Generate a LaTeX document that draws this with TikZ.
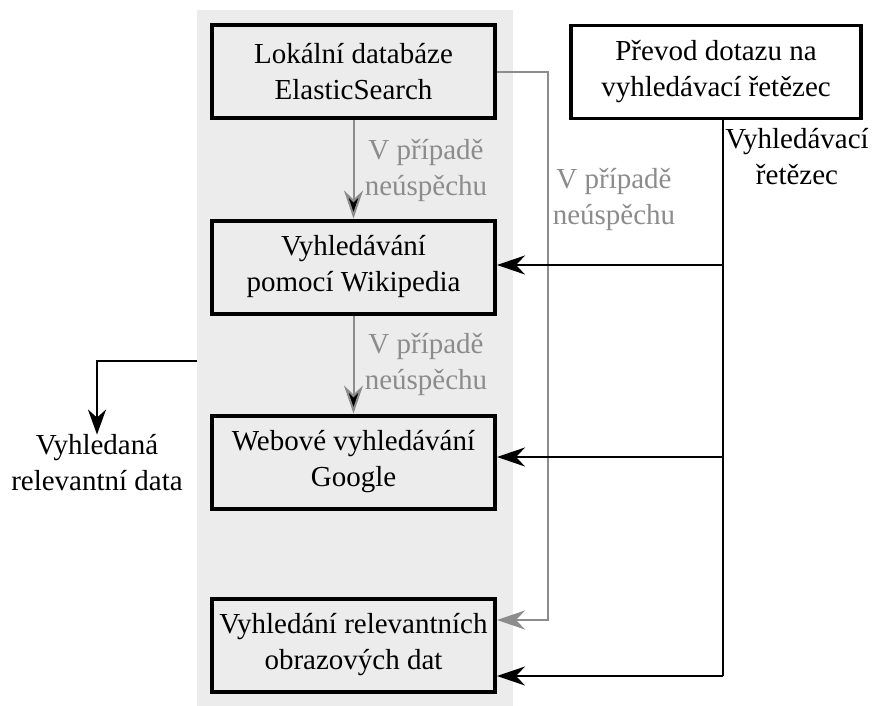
\documentclass[tikz,border=0pt]{standalone}
\usepackage{fontspec}
\setmainfont{Liberation Serif}
\newfontfamily\tnr{Liberation Serif}
\usepackage{xcolor}
\usetikzlibrary{arrows.meta}
\usetikzlibrary{positioning}
\definecolor{panel}{HTML}{ECECEC}
\definecolor{fail}{HTML}{8C8C8C}

\tikzset{
  stepbox/.style={draw=black, line width=4pt, fill=panel, minimum width=283pt,
    minimum height=93pt, align=center, inner sep=2pt,
    font=\tnr\fontsize{29}{36}\selectfont},
  txt/.style={align=center, inner sep=0pt, font=\tnr\fontsize{29}{36}\selectfont},
  failtxt/.style={txt, text=fail},
  flow/.style={line width=2.4pt, -{Stealth[length=28pt, width=19pt, inset=9pt]}},
  failflow/.style={flow, draw=fail, line width=2pt}
}

\begin{document}
\begin{tikzpicture}[x=1pt, y=-1pt]
    \useasboundingbox (0,0) rectangle (875,706);
    \fill[panel] (197,10) rectangle (513,706);
    \node[stepbox] (A) at (353.5,72) {Lokální databáze\\ElasticSearch};
    \node[stepbox] (B) at (353.5,267) {Vyhledávání\\pomocí Wikipedia};
    \node[stepbox] (C) at (353.5,462) {Webové vyhledávání\\Google};
    \node[stepbox] (D) at (353.5,645) {Vyhledání relevantních\\obrazových dat};
    \node[stepbox, fill=white, line width=3.5pt, minimum width=290pt] (P) at (716,72) {Převod dotazu na\\vyhledávací řetězec};
    \node[failtxt] (L1) at (426,170) {V případě\\neúspěchu};
    \node[failtxt] (L2) at (426,364) {V případě\\neúspěchu};
    \node[failtxt] (L3) at (614,199) {V případě\\neúspěchu};
    \node[txt] (L4) at (797,157) {Vyhledávací\\řetězec};
    \node[txt] (R) at (97,463) {Vyhledaná\\relevantní data};
    \coordinate (S) at (723,0 |- P.south);
    \coordinate (G) at (197,361);
    \path [failflow] (A) edge (B);
    \path [failflow] (B) edge (C);
    \draw [failflow] (A.east) -| (548,620) -- (D.east |- 0,620);
    \draw [line width=2.4pt] (S) -- (723,676);
    \draw [flow] (723,265) -- (B.east |- 0,265);
    \draw [flow] (723,457) -- (C.east |- 0,457);
    \draw [flow] (723,676) -- (D.east |- 0,676);
    \draw [flow, -{Stealth[length=25pt, width=18pt, inset=8pt]}] (G) -| (R.north);
  \end{tikzpicture}
\end{document}
